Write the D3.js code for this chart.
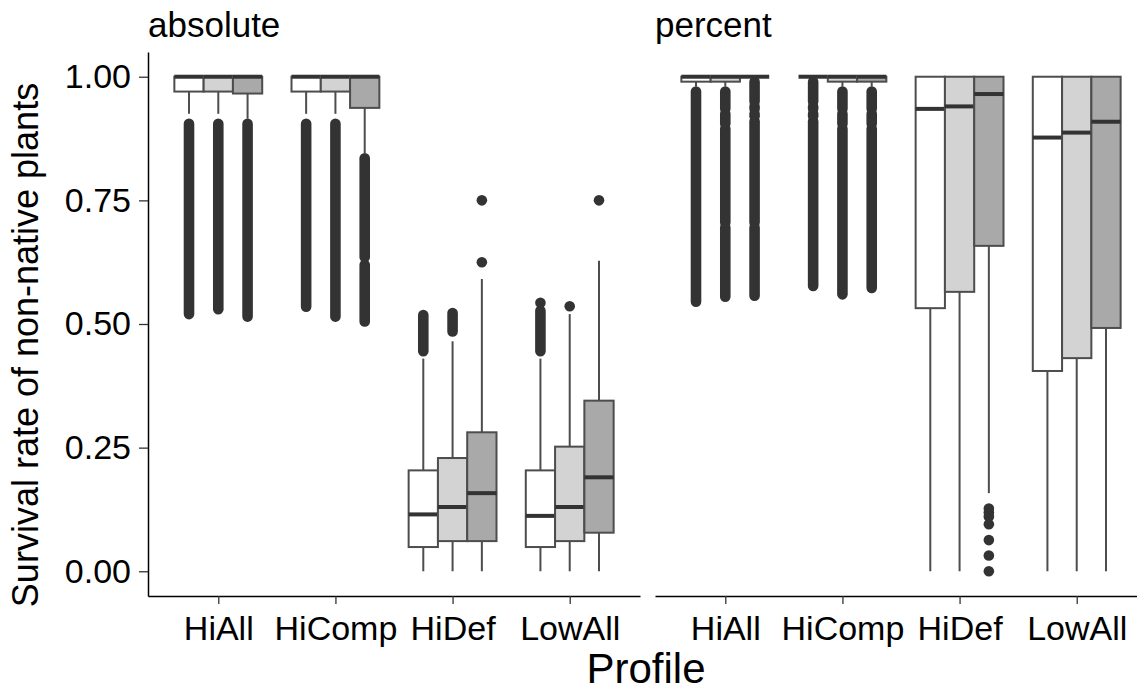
<!DOCTYPE html>
<html>
<head>
<meta charset="utf-8">
<script src="https://cdn.jsdelivr.net/npm/d3@7"></script>
<style>
  body { margin: 0; background: #fff; }
  svg { display: block; font-family: "Liberation Sans", Arial, sans-serif; }
</style>
</head>
<body>
<svg width="1137" height="691"></svg>
<script>
// facets, categories and fill groups
const panels = ["absolute", "percent"];
const profiles = ["HiAll", "HiComp", "HiDef", "LowAll"];
const groups = ["g1", "g2", "g3"];
const groupFill = ["#ffffff", "#d3d3d3", "#a9a9a9"];
const yTicks = [0, 0.25, 0.5, 0.75, 1];

// box stats, one row per profile, one value per group
const absLo = [[0.925, 0.925, 0.915], [0.925, 0.925, 0.845], [0, 0, 0], [0, 0, 0]];
const absQ1 = [[0.97, 0.97, 0.966], [0.97, 0.97, 0.937], [0.049, 0.061, 0.061], [0.049, 0.061, 0.078]];
const absMed = [[1, 1, 1], [1, 1, 1], [0.115, 0.13, 0.158], [0.112, 0.13, 0.19]];
const absQ3 = [[1, 1, 1], [1, 1, 1], [0.204, 0.229, 0.281], [0.204, 0.252, 0.345]];
const absHi = [[1, 1, 1], [1, 1, 1], [0.43, 0.465, 0.591], [0.43, 0.52, 0.628]];
// runs of overlapping outliers [from, to], and single outliers
const absRuns = [
    [[[0.52, 0.905]], [[0.53, 0.905]], [[0.515, 0.905]]],
    [[[0.535, 0.905]], [[0.515, 0.905]], [[0.505, 0.62], [0.635, 0.835]]],
    [[[0.445, 0.518]], [[0.485, 0.522]], []],
    [[[0.445, 0.527]], [], []]
];
const absPts = [[[], [], []], [[], [], []], [[], [], [0.625, 0.75]], [[0.543], [0.536], [0.75]]];

const pctLo = [[0.98, 0.98, 1], [1, 0.98, 0.98], [0, 0, 0.158], [0, 0, 0]];
const pctQ1 = [[0.99, 0.99, 1], [1, 0.99, 0.99], [0.532, 0.565, 0.658], [0.405, 0.431, 0.492]];
const pctMed = [[1, 1, 1], [1, 1, 1], [0.935, 0.94, 0.965], [0.877, 0.887, 0.909]];
const pctQ3 = [[1, 1, 1], [1, 1, 1], [1, 1, 1], [1, 1, 1]];
const pctHi = [[1, 1, 1], [1, 1, 1], [1, 1, 1], [1, 1, 1]];
const pctRuns = [
    [[[0.545, 0.97]],
     [[0.555, 0.695], [0.705, 0.895], [0.905, 0.925], [0.935, 0.97]],
     [[0.557, 0.695], [0.705, 0.91], [0.92, 0.925], [0.935, 0.94], [0.95, 0.99]]],
    [[[0.577, 0.91], [0.92, 0.925], [0.935, 0.94], [0.95, 0.99]],
     [[0.56, 0.895], [0.905, 0.925], [0.935, 0.97]],
     [[0.573, 0.895], [0.905, 0.925], [0.935, 0.97]]],
    [[], [], []],
    [[], [], []]
];
const pctPts = [[[], [], []], [[], [], []], [[], [], [0.127, 0.119, 0.111, 0.095, 0.063, 0.032, 0]], [[], [], []]];

const panelStats = [
    { lo: absLo, q1: absQ1, med: absMed, q3: absQ3, hi: absHi, runs: absRuns, pts: absPts },
    { lo: pctLo, q1: pctQ1, med: pctMed, q3: pctQ3, hi: pctHi, runs: pctRuns, pts: pctPts }
];

var svg = d3.select("svg");
var panelLeft = [148, 655];
var panelW = 492;
var panelTop = 52, panelBottom = 596;
var ptR = 5.3;

var y = d3.scaleLinear().domain([-0.05, 1.05]).range([panelBottom, panelTop]);

panels.forEach(function(name, pi) {
    var st = panelStats[pi];
    var x = d3.scalePoint().domain(profiles)
        .range([panelLeft[pi], panelLeft[pi] + panelW]).padding(0.6);
    var step = x.step();
    var inner = d3.scaleBand().domain(groups).range([-0.375 * step, 0.375 * step]);
    var bw = inner.bandwidth();

    var g = svg.append("g");

    // flatten to one record per box, in ggplot draw order
    var boxes = [];
    profiles.forEach(function(p, i) {
        groups.forEach(function(gr, j) {
            boxes.push({
                cx: x(p) + inner(gr) + bw / 2, fill: groupFill[j],
                lo: st.lo[i][j], q1: st.q1[i][j], med: st.med[i][j],
                q3: st.q3[i][j], hi: st.hi[i][j],
                runs: st.runs[i][j], pts: st.pts[i][j]
            });
        });
    });

    var box = g.selectAll("g.box").data(boxes).enter().append("g").attr("class", "box");

    // outliers first
    box.selectAll("line.run").data(function(d) { return d.runs.map(function(r) { return { cx: d.cx, r: r }; }); })
        .enter().append("line")
        .attr("class", "run")
        .attr("x1", function(d) { return d.cx; })
        .attr("x2", function(d) { return d.cx; })
        .attr("y1", function(d) { return y(d.r[1]); })
        .attr("y2", function(d) { return y(d.r[0]); })
        .attr("stroke", "#333333")
        .attr("stroke-width", ptR * 2)
        .attr("stroke-linecap", "round");

    box.selectAll("circle").data(function(d) { return d.pts.map(function(v) { return { cx: d.cx, v: v }; }); })
        .enter().append("circle")
        .attr("cx", function(d) { return d.cx; })
        .attr("cy", function(d) { return y(d.v); })
        .attr("r", ptR)
        .attr("fill", "#333333");

    // whiskers
    box.append("line")
        .attr("x1", function(d) { return d.cx; })
        .attr("x2", function(d) { return d.cx; })
        .attr("y1", function(d) { return y(d.q1); })
        .attr("y2", function(d) { return y(d.lo); })
        .attr("stroke", "#4d4d4d").attr("stroke-width", 2);
    box.append("line")
        .attr("x1", function(d) { return d.cx; })
        .attr("x2", function(d) { return d.cx; })
        .attr("y1", function(d) { return y(d.q3); })
        .attr("y2", function(d) { return y(d.hi); })
        .attr("stroke", "#4d4d4d").attr("stroke-width", 2);

    // box + median
    box.append("rect")
        .attr("x", function(d) { return d.cx - bw / 2; })
        .attr("width", bw)
        .attr("y", function(d) { return y(d.q3); })
        .attr("height", function(d) { return y(d.q1) - y(d.q3); })
        .attr("fill", function(d) { return d.fill; })
        .attr("stroke", "#4d4d4d").attr("stroke-width", 2);
    box.append("line")
        .attr("x1", function(d) { return d.cx - bw / 2; })
        .attr("x2", function(d) { return d.cx + bw / 2; })
        .attr("y1", function(d) { return y(d.med); })
        .attr("y2", function(d) { return y(d.med); })
        .attr("stroke", "#333333").attr("stroke-width", 4);

    // x axis
    var xa = g.append("g")
        .attr("transform", "translate(0," + panelBottom + ")")
        .call(d3.axisBottom(x).tickSize(8).tickSizeOuter(0).tickPadding(6));
    xa.select(".domain").attr("stroke", "#000").attr("stroke-width", 1.5);
    xa.selectAll(".tick line").attr("stroke", "#333").attr("stroke-width", 1.3);
    xa.selectAll(".tick text")
        .attr("font-size", 34).attr("fill", "#000")
        .attr("y", 44).attr("dy", null);

    // facet label
    g.append("text")
        .attr("x", panelLeft[pi])
        .attr("y", 37)
        .attr("font-size", 35)
        .attr("fill", "#000")
        .text(name);

    // y axis only on first panel
    if (pi === 0) {
        var ya = g.append("g")
            .attr("transform", "translate(" + panelLeft[pi] + ",0)")
            .call(d3.axisLeft(y).tickValues(yTicks).tickFormat(d3.format(".2f"))
                .tickSize(9).tickSizeOuter(0).tickPadding(8));
        ya.select(".domain").attr("stroke", "#000").attr("stroke-width", 1.5);
        ya.selectAll(".tick line").attr("stroke", "#333").attr("stroke-width", 1.3);
        ya.selectAll(".tick text").attr("font-size", 34).attr("fill", "#000");
    }
});

svg.selectAll(".tick text").attr("font-family", "Liberation Sans, Arial, sans-serif");

// axis titles
svg.append("text")
    .attr("transform", "translate(38,345) rotate(-90)")
    .attr("text-anchor", "middle")
    .attr("font-size", 36)
    .text("Survival rate of non-native plants");

svg.append("text")
    .attr("x", 646)
    .attr("y", 683)
    .attr("text-anchor", "middle")
    .attr("font-size", 42)
    .text("Profile");
</script>
</body>
</html>
